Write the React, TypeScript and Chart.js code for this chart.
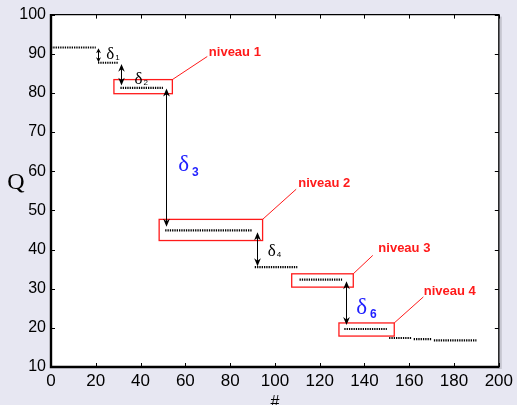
import React, { useEffect, useRef } from "react";
import { Chart, registerables } from "chart.js";

Chart.register(...registerables);

// ---- data ----
const segStart = [0, 21, 31, 51, 91, 111, 131, 151, 162, 171];
const segEnd = [20, 30, 50, 90, 110, 130, 150, 161, 170, 190];
const levels = [91.6, 87.7, 81.3, 44.9, 35.5, 32.3, 19.7, 17.4, 17.1, 16.8];

const xTicks = [0, 20, 40, 60, 80, 100, 120, 140, 160, 180, 200];
const yTicks = [10, 20, 30, 40, 50, 60, 70, 80, 90, 100];

// ---- annotations (data units) ----
const boxNames = ["niveau 1", "niveau 2", "niveau 3", "niveau 4"];
const boxX0 = [28.1, 48.3, 107.5, 128.6];
const boxX1 = [54.2, 94.5, 135.0, 153.3];
const boxYBottom = [79.8, 42.3, 30.4, 17.9];
const boxYTop = [83.4, 47.7, 33.8, 21.25];
const labelX = [70.5, 110.4, 146.2, 166.5];
const labelY = [90.4, 56.9, 40.2, 29.2];
const leaderX = [69.8, 109.5, 143.7, 166.3];
const leaderY = [89.3, 55.4, 38.5, 27.9];

const arrowX = [21.0, 31.3, 51.3, 91.9, 131.8];
const arrowTop = [91.4, 87.4, 81.1, 44.4, 31.9];
const arrowBottom = [87.8, 81.9, 45.8, 35.7, 20.7];

const deltaSub = ["1", "2", "3", "4", "6"];
const deltaX = [24.7, 37.25, 56.8, 96.8, 136.3];
const deltaY = [88.7, 82.3, 60.0, 38.3, 23.6];
const deltaBig = [false, false, true, false, true];

const BG = "#e7e7f2";
const RED = "#ff1a1a";
const BLUE = "#1f1fff";
const SANS = "'Liberation Sans', Arial, Helvetica, sans-serif";
const SERIF = "'Liberation Serif', 'Times New Roman', serif";

function arrowHead(ctx: CanvasRenderingContext2D, x: number, y: number, dir: number, len: number) {
  // dir = -1 pointing up, +1 pointing down; tip at (x,y)
  const hw = Math.max(2.5, len * 0.42);
  ctx.beginPath();
  ctx.moveTo(x, y);
  ctx.lineTo(x - hw, y - dir * len);
  ctx.lineTo(x, y - dir * len * 0.7);
  ctx.lineTo(x + hw, y - dir * len);
  ctx.closePath();
  ctx.fill();
}

const decor = {
  id: "decor",
  beforeDraw(chart: any) {
    const { ctx, width, height } = chart;
    const { left, top, right, bottom } = chart.chartArea;
    ctx.save();
    ctx.fillStyle = BG;
    ctx.fillRect(0, 0, width, height);
    ctx.fillStyle = "#c6c6d0";
    ctx.fillRect(right, top + 2, 3, bottom - top);
    ctx.fillStyle = "#ffffff";
    ctx.fillRect(left, top, right - left, bottom - top);
    ctx.restore();
  },
  afterDatasetsDraw(chart: any) {
    const { ctx } = chart;
    const { left, top, right, bottom } = chart.chartArea;
    const xs = chart.scales.x;
    const ys = chart.scales.y;
    const px = (v: number) => xs.getPixelForValue(v);
    const py = (v: number) => ys.getPixelForValue(v);
    ctx.save();

    // red boxes, leaders, labels
    ctx.strokeStyle = RED;
    for (let i = 0; i < boxNames.length; i++) {
      const x0 = px(boxX0[i]);
      const x1 = px(boxX1[i]);
      const y0 = py(boxYTop[i]);
      const y1 = py(boxYBottom[i]);
      ctx.lineWidth = 1.3;
      ctx.strokeRect(x0, y0, x1 - x0, y1 - y0);
      ctx.beginPath();
      ctx.lineWidth = 1;
      ctx.moveTo(x1, y0);
      ctx.lineTo(px(leaderX[i]), py(leaderY[i]));
      ctx.stroke();
      ctx.fillStyle = RED;
      ctx.font = `bold 13px ${SANS}`;
      ctx.textAlign = "left";
      ctx.textBaseline = "middle";
      ctx.fillText(boxNames[i], px(labelX[i]), py(labelY[i]));
    }

    // arrows
    ctx.strokeStyle = "#000";
    ctx.fillStyle = "#000";
    ctx.lineWidth = 1;
    for (let i = 0; i < arrowX.length; i++) {
      const x = Math.round(px(arrowX[i])) + 0.5;
      const yt = py(arrowTop[i]);
      const yb = py(arrowBottom[i]);
      const len = Math.min(8, (yb - yt) * 0.36);
      ctx.beginPath();
      ctx.moveTo(x, yt + 2);
      ctx.lineTo(x, yb - 2);
      ctx.stroke();
      arrowHead(ctx, x, yt, -1, len);
      arrowHead(ctx, x, yb, 1, len);
    }

    // delta labels
    ctx.textAlign = "left";
    ctx.textBaseline = "alphabetic";
    for (let i = 0; i < deltaSub.length; i++) {
      const x = px(deltaX[i]);
      const y = py(deltaY[i]);
      if (deltaBig[i]) {
        ctx.fillStyle = BLUE;
        ctx.font = `23px ${SERIF}`;
        ctx.fillText("\u03b4", x, y);
        const w = ctx.measureText("\u03b4").width;
        ctx.font = `bold 12px ${SANS}`;
        ctx.fillText(deltaSub[i], x + w + 3, y + 4.5);
      } else {
        ctx.fillStyle = "#000";
        ctx.font = `17px ${SERIF}`;
        ctx.fillText("\u03b4", x, y);
        const w = ctx.measureText("\u03b4").width;
        ctx.font = `8px ${SANS}`;
        ctx.fillText(deltaSub[i], x + w + 1, y + 1);
      }
    }

    // frame
    ctx.strokeStyle = "#000";
    ctx.lineWidth = 1.3;
    ctx.beginPath();
    ctx.moveTo(left, top);
    ctx.lineTo(right, top);
    ctx.lineTo(right, bottom);
    ctx.stroke();
    ctx.lineWidth = 2.4;
    ctx.beginPath();
    ctx.moveTo(left, top - 0.6);
    ctx.lineTo(left, bottom);
    ctx.lineTo(right + 0.6, bottom);
    ctx.stroke();

    // inward ticks on all sides
    ctx.lineWidth = 1;
    const tl = 4;
    ctx.beginPath();
    for (const v of xTicks) {
      const x = Math.round(px(v)) + 0.5;
      ctx.moveTo(x, bottom);
      ctx.lineTo(x, bottom - tl);
      ctx.moveTo(x, top);
      ctx.lineTo(x, top + tl);
    }
    for (const v of yTicks) {
      const y = Math.round(py(v)) + 0.5;
      ctx.moveTo(left, y);
      ctx.lineTo(left + tl, y);
      ctx.moveTo(right, y);
      ctx.lineTo(right - tl, y);
    }
    ctx.stroke();

    // axis titles
    ctx.fillStyle = "#000";
    ctx.font = `24px ${SERIF}`;
    ctx.textAlign = "center";
    ctx.textBaseline = "middle";
    ctx.fillText("Q", 16, 183);
    ctx.font = `16px ${SANS}`;
    ctx.textBaseline = "alphabetic";
    ctx.fillText("#", px(100), 407);

    ctx.restore();
  },
};

export default function App() {
  const ref = useRef<HTMLCanvasElement | null>(null);
  useEffect(() => {
    if (!ref.current) return;
    const datasets = levels.map((lv, i) => ({
      data: [
        { x: segStart[i], y: lv },
        { x: segEnd[i], y: lv },
      ],
      borderColor: "#000",
      borderWidth: 2.2,
      borderDash: [1.3, 1],
      pointRadius: 0,
      fill: false,
      tension: 0,
    }));
    const chart = new Chart(ref.current, {
      type: "line",
      data: { datasets },
      options: {
        animation: false,
        responsive: false,
        devicePixelRatio: 1,
        layout: { padding: { left: 0, right: 15, top: 14, bottom: 0 } },
        plugins: { legend: { display: false }, tooltip: { enabled: false } },
        scales: {
          x: {
            type: "linear",
            min: 0,
            max: 200,
            afterBuildTicks: (s: any) => {
              s.ticks = xTicks.map((v) => ({ value: v }));
            },
            afterFit: (s: any) => {
              s.height = 38;
            },
            ticks: {
              color: "#000",
              font: { family: SANS, size: 17 },
              padding: 4,
              maxRotation: 0,
              autoSkip: false,
            },
            grid: { display: false, drawTicks: false },
            border: { display: false },
          },
          y: {
            type: "linear",
            min: 10,
            max: 100,
            afterBuildTicks: (s: any) => {
              s.ticks = yTicks.map((v) => ({ value: v }));
            },
            afterFit: (s: any) => {
              s.width = 51;
            },
            ticks: {
              color: "#000",
              font: { family: SANS, size: 16 },
              padding: 5,
              autoSkip: false,
            },
            grid: { display: false, drawTicks: false },
            border: { display: false },
          },
        },
      } as any,
      plugins: [decor],
    });
    return () => chart.destroy();
  }, []);
  return (
    <div style={{ position: "absolute", left: 0, top: 0, width: 517, height: 405 }}>
      <canvas ref={ref} width={517} height={405} style={{ display: "block", width: 517, height: 405 }} />
    </div>
  );
}
